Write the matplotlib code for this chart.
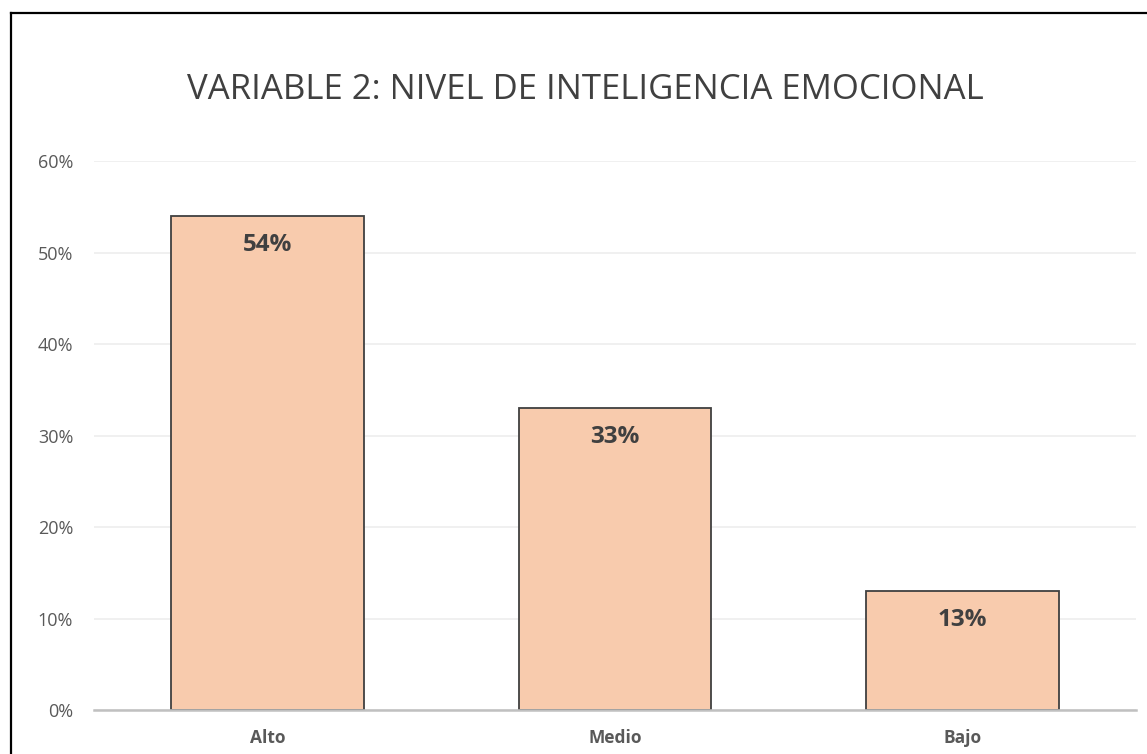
import matplotlib
matplotlib.use("Agg")
import matplotlib.pyplot as plt
from matplotlib.lines import Line2D

categories = ["Alto", "Medio", "Bajo"]
values = [54, 33, 13]
yticks = [0, 10, 20, 30, 40, 50, 60]
title = "VARIABLE 2: NIVEL DE INTELIGENCIA EMOCIONAL"

plt.rcParams['font.family'] = ['Open Sans', 'DejaVu Sans']

fig = plt.figure(figsize=(11.47, 7.54), dpi=100)
ax = fig.add_axes([94/1147, 1-710/754, (1136-94)/1147, (710-161)/754])

x = list(range(len(categories)))
ax.bar(x, values, width=0.555, color="#F8CBAD", edgecolor="#404040", linewidth=1.3, zorder=3)
for xi, v in zip(x, values):
    ax.annotate(f"{v}%", (xi, v), xytext=(0, -29), textcoords="offset pixels",
                ha="center", va="center", fontsize=17.5, fontweight="bold", color="#404040", zorder=4)

ax.set_xlim(-0.5, len(categories) - 0.5)
ax.set_ylim(0, 60)
ax.set_yticks(yticks)
ax.set_yticklabels([f"{t}%" for t in yticks], fontsize=13, color="#595959")
ax.set_xticks(x)
ax.set_xticklabels(categories, fontsize=12.5, fontweight="bold", color="#595959")
ax.tick_params(axis="both", length=0)
ax.tick_params(axis="y", pad=15)
ax.tick_params(axis="x", pad=14)
ax.grid(axis="y", color="#EFEFEF", linewidth=1.3, zorder=0)
for s in ["top", "right", "left"]:
    ax.spines[s].set_visible(False)
ax.spines["bottom"].set_color("#C0C0C0")
ax.spines["bottom"].set_linewidth(1.8)
ax.spines["bottom"].set_zorder(5)

fig.text(585/1147, 1-90/754, title, ha="center", va="center", fontsize=25, color="#404040")

# outer border (left and top)
fig.add_artist(Line2D([10.5/1147, 10.5/1147], [0, 1-13/754], transform=fig.transFigure, color="black", linewidth=1.6))
fig.add_artist(Line2D([10.5/1147, 1], [1-13/754, 1-13/754], transform=fig.transFigure, color="black", linewidth=1.6))

fig.savefig("out.png", dpi=100)
